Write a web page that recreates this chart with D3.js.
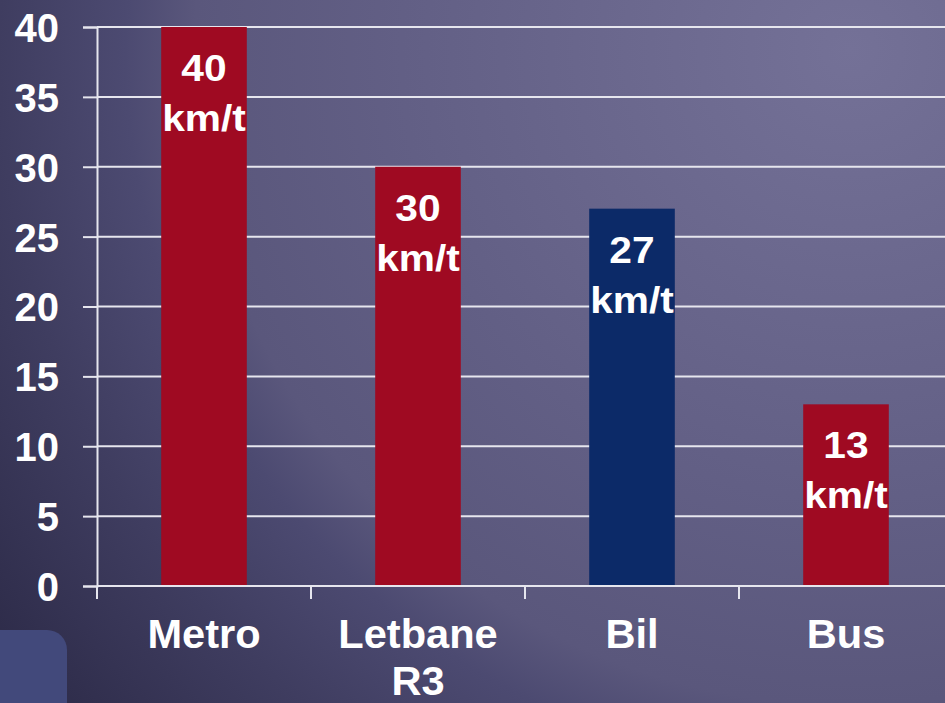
<!DOCTYPE html>
<html>
<head>
<meta charset="utf-8">
<script src="https://cdn.jsdelivr.net/npm/d3@7"></script>
<style>
  html, body { margin: 0; padding: 0; overflow: hidden; }
  text { font-family: "Liberation Sans", Arial, sans-serif; font-weight: bold; fill: #fff; }
</style>
</head>
<body>
<div id="chart"></div>
<script>
// data
const categories = ["Metro", "Letbane R3", "Bil", "Bus"];
const speeds = [40, 30, 27, 13];
const barColors = ["#9f0a22", "#9f0a22", "#0c2a68", "#9f0a22"];
const unitLabel = "km/t";
const yTicks = [0, 5, 10, 15, 20, 25, 30, 35, 40];

const width = 945, height = 703;

const svg = d3.select("#chart").append("svg")
    .attr("width", width)
    .attr("height", height);

// background
let defs = svg.append("defs");
let grad = defs.append("radialGradient")
    .attr("id", "bg")
    .attr("gradientUnits", "userSpaceOnUse")
    .attr("cx", 850).attr("cy", 50).attr("r", 1150);
[[0, "#747197"], [0.39, "#625f85"], [0.57, "#5a577c"], [0.63, "#4c4a71"], [0.74, "#3f3d60"], [0.93, "#2b2946"], [1, "#292744"]]
    .forEach(s => grad.append("stop").attr("offset", s[0]).attr("stop-color", s[1]));

svg.append("rect")
    .attr("width", width).attr("height", height)
    .attr("fill", "url(#bg)");

// little rounded box in the corner
svg.append("rect")
    .attr("x", -30).attr("y", 630)
    .attr("width", 97).attr("height", 120)
    .attr("rx", 20)
    .attr("fill", "#42497b");

const x = d3.scaleBand()
    .domain(categories)
    .range([97, 953])
    .padding(0);

const y = d3.scaleLinear()
    .domain([0, 40])
    .range([586, 27]);

const lineColor = "#e6e6ee";

// gridlines
svg.append("g")
    .selectAll("line")
    .data(yTicks.filter(d => d > 0))
    .enter().append("line")
    .attr("x1", 97).attr("x2", width)
    .attr("y1", d => y(d)).attr("y2", d => y(d))
    .attr("stroke", lineColor)
    .attr("stroke-width", 2);

// y axis
let yAxis = svg.append("g")
    .attr("transform", "translate(97,0)")
    .call(d3.axisLeft(y).tickValues(yTicks).tickSize(14).tickPadding(24));
yAxis.select(".domain").attr("stroke", lineColor).attr("stroke-width", 2);
yAxis.selectAll(".tick line").attr("stroke", lineColor).attr("stroke-width", 2);
yAxis.selectAll(".tick text")
    .attr("fill", "#fff")
    .style("font-size", "40px")
    .attr("dy", "0.36em");

// bars
const barW = x.bandwidth() * 0.4;
svg.append("g")
    .selectAll("rect")
    .data(speeds)
    .enter().append("rect")
    .attr("x", (d, i) => x(categories[i]) + (x.bandwidth() - barW) / 2)
    .attr("y", d => y(d))
    .attr("width", barW)
    .attr("height", d => y(0) - y(d))
    .attr("fill", (d, i) => barColors[i]);

// x axis
svg.append("line")
    .attr("x1", 97).attr("x2", width)
    .attr("y1", y(0)).attr("y2", y(0))
    .attr("stroke", lineColor).attr("stroke-width", 2);
svg.append("g")
    .selectAll("line")
    .data(categories)
    .enter().append("line")
    .attr("x1", d => x(d)).attr("x2", d => x(d))
    .attr("y1", y(0)).attr("y2", y(0) + 13)
    .attr("stroke", lineColor).attr("stroke-width", 2);

// category labels
let catLabels = svg.append("g")
    .selectAll("text")
    .data(categories)
    .enter().append("text")
    .attr("text-anchor", "middle")
    .attr("transform", d => `translate(${x(d) + x.bandwidth() / 2},648) scale(1.04,1)`)
    .style("font-size", "40px");
catLabels.selectAll("tspan")
    .data(d => d.split(" "))
    .enter().append("tspan")
    .attr("x", 0)
    .attr("y", (d, i) => i * 47)
    .text(d => d);

// value labels inside bars
let valLabels = svg.append("g")
    .selectAll("text")
    .data(speeds)
    .enter().append("text")
    .attr("text-anchor", "middle")
    .attr("transform", (d, i) => `translate(${x(categories[i]) + x.bandwidth() / 2},${y(d) + 54}) scale(1.1,1)`)
    .style("font-size", "37px");
valLabels.selectAll("tspan")
    .data(d => [d, unitLabel])
    .enter().append("tspan")
    .attr("x", 0)
    .attr("y", (d, i) => i * 50)
    .text(d => d);
</script>
</body>
</html>
